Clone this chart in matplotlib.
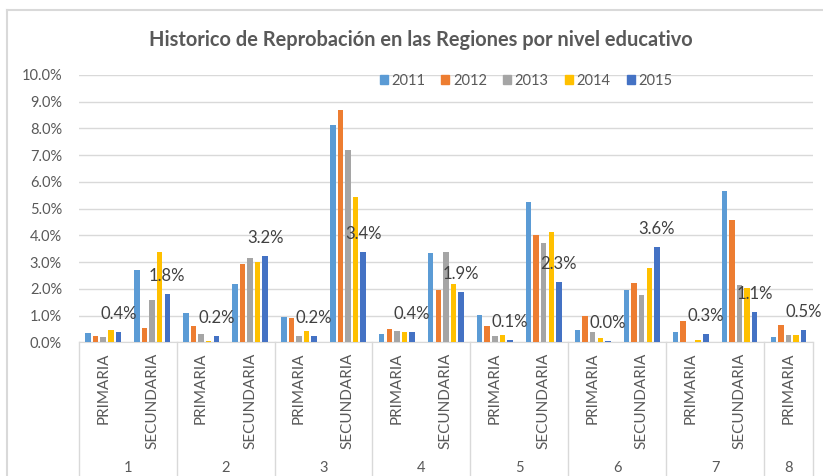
import matplotlib
matplotlib.use("Agg")
import matplotlib.pyplot as plt
from matplotlib.ticker import PercentFormatter, MultipleLocator
from matplotlib.lines import Line2D
from matplotlib.patches import Patch
import numpy as np

plt.rcParams['font.family'] = ['Lato', 'DejaVu Sans']

# Categorias (region / nivel)
regiones = ["1", "2", "3", "4", "5", "6", "7", "8"]
niveles = ["PRIMARIA", "SECUNDARIA"] * 7 + ["PRIMARIA"]

# Porcentaje de reprobacion por anio
anios = ["2011", "2012", "2013", "2014", "2015"]
v2011 = [0.36, 2.71, 1.10, 2.18, 0.96, 8.12, 0.30, 3.34, 1.02, 5.25, 0.47, 1.95, 0.40, 5.66, 0.20]
v2012 = [0.24, 0.55, 0.62, 2.92, 0.90, 8.68, 0.51, 1.95, 0.61, 4.03, 1.00, 2.22, 0.79, 4.59, 0.65]
v2013 = [0.20, 1.58, 0.32, 3.15, 0.24, 7.18, 0.44, 3.38, 0.24, 3.72, 0.40, 1.77, 0.00, 2.14, 0.26]
v2014 = [0.46, 3.39, 0.05, 3.00, 0.44, 5.45, 0.40, 2.18, 0.26, 4.13, 0.16, 2.78, 0.09, 2.03, 0.26]
v2015 = [0.40, 1.80, 0.24, 3.23, 0.24, 3.38, 0.37, 1.88, 0.09, 2.26, 0.04, 3.58, 0.30, 1.13, 0.47]
series = [v2011, v2012, v2013, v2014, v2015]
colores = ["#5B9BD5", "#ED7D31", "#A5A5A5", "#FFC000", "#4472C4"]

W, H = 823, 476
fig = plt.figure(figsize=(W / 100, H / 100), dpi=100)
ax_left, ax_right, ax_top, ax_bot = 78.7, 813, 75, 342.3
ax = fig.add_axes([ax_left / W, 1 - ax_bot / H, (ax_right - ax_left) / W, (ax_bot - ax_top) / H])

x = np.arange(len(niveles))
paso = 0.155
ancho = 0.112
for i, (vals, col) in enumerate(zip(series, colores)):
    ax.bar(x + (i - 2) * paso, vals, width=ancho, color=col, zorder=3)

# etiquetas solo para 2015
for xi, v in zip(x + 2 * paso, v2015):
    ax.annotate(f"{v:.1f}%", (xi, v), xytext=(0, 13), textcoords="offset points",
                ha="center", va="center", fontsize=12, color="#404040", zorder=4)

ax.set_xlim(-0.5, len(niveles) - 0.5)
ax.set_ylim(0, 10)
ax.yaxis.set_major_locator(MultipleLocator(1))
ax.yaxis.set_major_formatter(PercentFormatter(xmax=100, decimals=1))
ax.grid(axis="y", color="#D9D9D9", linewidth=1, zorder=0)
for s in ["top", "right", "left"]:
    ax.spines[s].set_visible(False)
ax.spines["bottom"].set_color("#D9D9D9")
ax.tick_params(axis="y", length=0, pad=12, labelsize=10.5, labelcolor="#595959")
ax.set_xticks([])

# eje de categorias de dos niveles
trans = ax.get_xaxis_transform()
px = 1 / (ax_bot - ax_top)
for xi, nv in zip(x, niveles):
    ax.text(xi, -(353 - ax_bot) * px, nv, rotation=90, ha="center", va="top",
            fontsize=11, color="#595959", transform=trans)
bordes = list(np.arange(-0.5, len(niveles), 2)) + [len(niveles) - 0.5]
for b in bordes:
    ax.plot([b, b], [0, -(H - ax_bot + 5) * px], color="#D9D9D9", lw=1,
            transform=trans, clip_on=False)
centros = [2 * g + 0.5 for g in range(7)] + [14]
for c, r in zip(centros, regiones):
    ax.text(c, -(472 - ax_bot) * px, r, ha="center", va="baseline", fontsize=10.5,
            color="#595959", transform=trans)

# titulo y leyenda
fig.text(421 / W, 1 - 40 / H, "Historico de Reprobación en las Regiones por nivel educativo",
         ha="center", va="center", fontsize=14.4, fontweight="bold", color="#595959")
handles = [Patch(color=c, label=a) for c, a in zip(colores, anios)]
fig.legend(handles=handles, loc="center", bbox_to_anchor=(526 / W, 1 - 81 / H), ncol=5,
           frameon=False, fontsize=10.5, labelcolor="#595959", handlelength=0.55,
           handleheight=0.55, handletextpad=0.25, columnspacing=1.1, borderpad=0)

# borde del grafico
fig.add_artist(Line2D([7 / W, 7 / W], [0, 1 - 10 / H], color="#D9D9D9", lw=1.5))
fig.add_artist(Line2D([7 / W, 1], [1 - 10 / H, 1 - 10 / H], color="#D9D9D9", lw=1.5))

fig.savefig("out.png", dpi=100, facecolor="white")
